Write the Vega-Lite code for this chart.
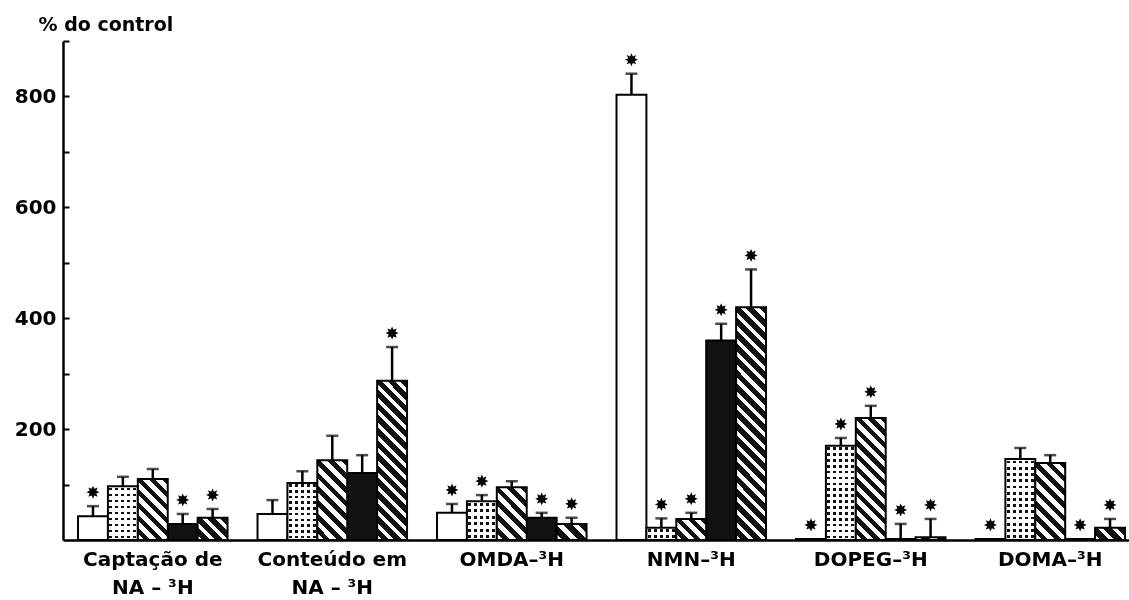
{
"$schema":"https://vega.github.io/schema/vega-lite/v6.json",
"width":1066,"height":499,
"autosize":{"type":"none"},
"padding":{"left":63,"top":41,"right":0,"bottom":60},
"background":"white",
"config":{"view":{"stroke":null},"font":"DejaVu Sans",
"axisX":{"domainColor":"black","domainWidth":2.5,"ticks":false,"labelAngle":0,"labelFont":"DejaVu Sans","labelFontSize":20,"labelFontWeight":"bold","labelColor":"black","labelPadding":9,"labelLineHeight":28,"labelLimit":300},
"axisY":{"domainColor":"black","domainWidth":2.5,"tickColor":"black","tickWidth":2,"tickSize":-6,"labelPadding":13,"grid":false,"labelFont":"DejaVu Sans","labelFontSize":20,"labelFontWeight":"bold","labelColor":"black","titleAngle":0,"titleAlign":"left","titleBaseline":"middle","titleX":-25,"titleY":-17,"titleFont":"DejaVu Sans","titleFontSize":19,"titleFontWeight":"bold","titleColor":"black"}},
"data":{"values":[
{"group":"Captação de|NA – ³H","series":"A","value":43,"hi":61,"sig":true},
{"group":"Captação de|NA – ³H","series":"B","value":97,"hi":114,"sig":false},
{"group":"Captação de|NA – ³H","series":"C","value":110,"hi":128,"sig":false},
{"group":"Captação de|NA – ³H","series":"D","value":29,"hi":47,"sig":true},
{"group":"Captação de|NA – ³H","series":"E","value":40,"hi":56,"sig":true},
{"group":"Conteúdo em|NA – ³H","series":"A","value":47,"hi":72,"sig":false},
{"group":"Conteúdo em|NA – ³H","series":"B","value":103,"hi":124,"sig":false},
{"group":"Conteúdo em|NA – ³H","series":"C","value":144,"hi":188,"sig":false},
{"group":"Conteúdo em|NA – ³H","series":"D","value":121,"hi":153,"sig":false},
{"group":"Conteúdo em|NA – ³H","series":"E","value":287,"hi":348,"sig":true},
{"group":"OMDA–³H","series":"A","value":49,"hi":65,"sig":true},
{"group":"OMDA–³H","series":"B","value":70,"hi":81,"sig":true},
{"group":"OMDA–³H","series":"C","value":95,"hi":106,"sig":false},
{"group":"OMDA–³H","series":"D","value":40,"hi":49,"sig":true},
{"group":"OMDA–³H","series":"E","value":29,"hi":40,"sig":true},
{"group":"NMN–³H","series":"A","value":803,"hi":841,"sig":true},
{"group":"NMN–³H","series":"B","value":22,"hi":39,"sig":true},
{"group":"NMN–³H","series":"C","value":38,"hi":49,"sig":true},
{"group":"NMN–³H","series":"D","value":360,"hi":390,"sig":true},
{"group":"NMN–³H","series":"E","value":420,"hi":488,"sig":true},
{"group":"DOPEG–³H","series":"A","value":2,"hi":2,"sig":true},
{"group":"DOPEG–³H","series":"B","value":170,"hi":184,"sig":true},
{"group":"DOPEG–³H","series":"C","value":220,"hi":242,"sig":true},
{"group":"DOPEG–³H","series":"D","value":2,"hi":29,"sig":true},
{"group":"DOPEG–³H","series":"E","value":5,"hi":38,"sig":true},
{"group":"DOMA–³H","series":"A","value":2,"hi":2,"sig":true},
{"group":"DOMA–³H","series":"B","value":146,"hi":166,"sig":false},
{"group":"DOMA–³H","series":"C","value":139,"hi":153,"sig":false},
{"group":"DOMA–³H","series":"D","value":2,"hi":2,"sig":true},
{"group":"DOMA–³H","series":"E","value":22,"hi":38,"sig":true}
]},
"encoding":{
"x":{"field":"group","type":"nominal","title":null,
"sort":["Captação de|NA – ³H","Conteúdo em|NA – ³H","OMDA–³H","NMN–³H","DOPEG–³H","DOMA–³H"],
"scale":{"domain":["Captação de|NA – ³H","Conteúdo em|NA – ³H","OMDA–³H","NMN–³H","DOPEG–³H","DOMA–³H"],"paddingInner":0.167,"paddingOuter":0.053,"align":0.79},
"axis":{"labelExpr":"split(datum.label,'|')"}},
"xOffset":{"field":"series","type":"nominal","sort":["A","B","C","D","E"],"scale":{"domain":["A","B","C","D","E"],"paddingInner":0,"paddingOuter":0}}
},
"layer":[
{"transform":[{"filter":"datum.series=='A'||datum.series=='D'"}],
"mark":{"type":"bar","stroke":"black","strokeWidth":2},
"encoding":{"y":{"field":"value","type":"quantitative","title":"% do control","scale":{"domain":[0,900],"nice":false},"axis":{"values":[100,200,300,400,500,600,700,800,900],"labelExpr":"datum.value % 200 == 0 && datum.value < 900 ? datum.label : ''"}},
"fill":{"condition":{"test":"datum.series=='A'","value":"white"},"value":"#111"}}},
{"transform":[{"filter":"datum.series=='B'"}],
"mark":{"type":"bar","stroke":"black","strokeWidth":2,"fill":{"gradient":"linear","x1":0,"y1":0,"x2":1,"y2":0,"stops":[
{"offset":0,"color":"#fff"},{"offset":0.05,"color":"#fff"},{"offset":0.05,"color":"#111"},{"offset":0.14,"color":"#111"},{"offset":0.14,"color":"#fff"},
{"offset":0.25,"color":"#fff"},{"offset":0.25,"color":"#111"},{"offset":0.34,"color":"#111"},{"offset":0.34,"color":"#fff"},
{"offset":0.45,"color":"#fff"},{"offset":0.45,"color":"#111"},{"offset":0.54,"color":"#111"},{"offset":0.54,"color":"#fff"},
{"offset":0.65,"color":"#fff"},{"offset":0.65,"color":"#111"},{"offset":0.74,"color":"#111"},{"offset":0.74,"color":"#fff"},
{"offset":0.85,"color":"#fff"},{"offset":0.85,"color":"#111"},{"offset":0.94,"color":"#111"},{"offset":0.94,"color":"#fff"},{"offset":1,"color":"#fff"}]}},
"encoding":{"y":{"field":"value","type":"quantitative","title":"% do control","scale":{"domain":[0,900],"nice":false}}}},
{"transform":[{"filter":"datum.series=='B'"}],
"mark":{"type":"bar","stroke":"black","strokeWidth":2,"blend":"lighten"},
"encoding":{"y":{"field":"value","type":"quantitative","title":"% do control","scale":{"domain":[0,900],"nice":false}},
"fill":{"condition":[
{"test":"datum.value==97","value":{"gradient":"linear","x1":0,"y1":0,"x2":0,"y2":1,"stops":[
{"offset":0,"color":"#fff"},
{"offset":0.0278,"color":"#fff"},{"offset":0.0278,"color":"#111"},{"offset":0.0778,"color":"#111"},{"offset":0.0778,"color":"#fff"},
{"offset":0.1389,"color":"#fff"},{"offset":0.1389,"color":"#111"},{"offset":0.1889,"color":"#111"},{"offset":0.1889,"color":"#fff"},
{"offset":0.25,"color":"#fff"},{"offset":0.25,"color":"#111"},{"offset":0.3,"color":"#111"},{"offset":0.3,"color":"#fff"},
{"offset":0.3611,"color":"#fff"},{"offset":0.3611,"color":"#111"},{"offset":0.4111,"color":"#111"},{"offset":0.4111,"color":"#fff"},
{"offset":0.4722,"color":"#fff"},{"offset":0.4722,"color":"#111"},{"offset":0.5222,"color":"#111"},{"offset":0.5222,"color":"#fff"},
{"offset":0.5833,"color":"#fff"},{"offset":0.5833,"color":"#111"},{"offset":0.6333,"color":"#111"},{"offset":0.6333,"color":"#fff"},
{"offset":0.6944,"color":"#fff"},{"offset":0.6944,"color":"#111"},{"offset":0.7444,"color":"#111"},{"offset":0.7444,"color":"#fff"},
{"offset":0.8056,"color":"#fff"},{"offset":0.8056,"color":"#111"},{"offset":0.8556,"color":"#111"},{"offset":0.8556,"color":"#fff"},
{"offset":0.9167,"color":"#fff"},{"offset":0.9167,"color":"#111"},{"offset":0.9667,"color":"#111"},{"offset":0.9667,"color":"#fff"},
{"offset":1,"color":"#fff"}]}},
{"test":"datum.value==103","value":{"gradient":"linear","x1":0,"y1":0,"x2":0,"y2":1,"stops":[
{"offset":0,"color":"#fff"},
{"offset":0.025,"color":"#fff"},{"offset":0.025,"color":"#111"},{"offset":0.07,"color":"#111"},{"offset":0.07,"color":"#fff"},
{"offset":0.125,"color":"#fff"},{"offset":0.125,"color":"#111"},{"offset":0.17,"color":"#111"},{"offset":0.17,"color":"#fff"},
{"offset":0.225,"color":"#fff"},{"offset":0.225,"color":"#111"},{"offset":0.27,"color":"#111"},{"offset":0.27,"color":"#fff"},
{"offset":0.325,"color":"#fff"},{"offset":0.325,"color":"#111"},{"offset":0.37,"color":"#111"},{"offset":0.37,"color":"#fff"},
{"offset":0.425,"color":"#fff"},{"offset":0.425,"color":"#111"},{"offset":0.47,"color":"#111"},{"offset":0.47,"color":"#fff"},
{"offset":0.525,"color":"#fff"},{"offset":0.525,"color":"#111"},{"offset":0.57,"color":"#111"},{"offset":0.57,"color":"#fff"},
{"offset":0.625,"color":"#fff"},{"offset":0.625,"color":"#111"},{"offset":0.67,"color":"#111"},{"offset":0.67,"color":"#fff"},
{"offset":0.725,"color":"#fff"},{"offset":0.725,"color":"#111"},{"offset":0.77,"color":"#111"},{"offset":0.77,"color":"#fff"},
{"offset":0.825,"color":"#fff"},{"offset":0.825,"color":"#111"},{"offset":0.87,"color":"#111"},{"offset":0.87,"color":"#fff"},
{"offset":0.925,"color":"#fff"},{"offset":0.925,"color":"#111"},{"offset":0.97,"color":"#111"},{"offset":0.97,"color":"#fff"},
{"offset":1,"color":"#fff"}]}},
{"test":"datum.value==70","value":{"gradient":"linear","x1":0,"y1":0,"x2":0,"y2":1,"stops":[
{"offset":0,"color":"#fff"},
{"offset":0.0417,"color":"#fff"},{"offset":0.0417,"color":"#111"},{"offset":0.1167,"color":"#111"},{"offset":0.1167,"color":"#fff"},
{"offset":0.2083,"color":"#fff"},{"offset":0.2083,"color":"#111"},{"offset":0.2833,"color":"#111"},{"offset":0.2833,"color":"#fff"},
{"offset":0.375,"color":"#fff"},{"offset":0.375,"color":"#111"},{"offset":0.45,"color":"#111"},{"offset":0.45,"color":"#fff"},
{"offset":0.5417,"color":"#fff"},{"offset":0.5417,"color":"#111"},{"offset":0.6167,"color":"#111"},{"offset":0.6167,"color":"#fff"},
{"offset":0.7083,"color":"#fff"},{"offset":0.7083,"color":"#111"},{"offset":0.7833,"color":"#111"},{"offset":0.7833,"color":"#fff"},
{"offset":0.875,"color":"#fff"},{"offset":0.875,"color":"#111"},{"offset":0.95,"color":"#111"},{"offset":0.95,"color":"#fff"},
{"offset":1,"color":"#fff"}]}},
{"test":"datum.value==22","value":{"gradient":"linear","x1":0,"y1":0,"x2":0,"y2":1,"stops":[
{"offset":0,"color":"#fff"},
{"offset":0.125,"color":"#fff"},{"offset":0.125,"color":"#111"},{"offset":0.35,"color":"#111"},{"offset":0.35,"color":"#fff"},
{"offset":0.625,"color":"#fff"},{"offset":0.625,"color":"#111"},{"offset":0.85,"color":"#111"},{"offset":0.85,"color":"#fff"},
{"offset":1,"color":"#fff"}]}},
{"test":"datum.value==170","value":{"gradient":"linear","x1":0,"y1":0,"x2":0,"y2":1,"stops":[
{"offset":0,"color":"#fff"},
{"offset":0.0156,"color":"#fff"},{"offset":0.0156,"color":"#111"},{"offset":0.0438,"color":"#111"},{"offset":0.0438,"color":"#fff"},
{"offset":0.0781,"color":"#fff"},{"offset":0.0781,"color":"#111"},{"offset":0.1063,"color":"#111"},{"offset":0.1063,"color":"#fff"},
{"offset":0.1406,"color":"#fff"},{"offset":0.1406,"color":"#111"},{"offset":0.1688,"color":"#111"},{"offset":0.1688,"color":"#fff"},
{"offset":0.2031,"color":"#fff"},{"offset":0.2031,"color":"#111"},{"offset":0.2313,"color":"#111"},{"offset":0.2313,"color":"#fff"},
{"offset":0.2656,"color":"#fff"},{"offset":0.2656,"color":"#111"},{"offset":0.2938,"color":"#111"},{"offset":0.2938,"color":"#fff"},
{"offset":0.3281,"color":"#fff"},{"offset":0.3281,"color":"#111"},{"offset":0.3563,"color":"#111"},{"offset":0.3563,"color":"#fff"},
{"offset":0.3906,"color":"#fff"},{"offset":0.3906,"color":"#111"},{"offset":0.4188,"color":"#111"},{"offset":0.4188,"color":"#fff"},
{"offset":0.4531,"color":"#fff"},{"offset":0.4531,"color":"#111"},{"offset":0.4813,"color":"#111"},{"offset":0.4813,"color":"#fff"},
{"offset":0.5156,"color":"#fff"},{"offset":0.5156,"color":"#111"},{"offset":0.5438,"color":"#111"},{"offset":0.5438,"color":"#fff"},
{"offset":0.5781,"color":"#fff"},{"offset":0.5781,"color":"#111"},{"offset":0.6063,"color":"#111"},{"offset":0.6063,"color":"#fff"},
{"offset":0.6406,"color":"#fff"},{"offset":0.6406,"color":"#111"},{"offset":0.6688,"color":"#111"},{"offset":0.6688,"color":"#fff"},
{"offset":0.7031,"color":"#fff"},{"offset":0.7031,"color":"#111"},{"offset":0.7313,"color":"#111"},{"offset":0.7313,"color":"#fff"},
{"offset":0.7656,"color":"#fff"},{"offset":0.7656,"color":"#111"},{"offset":0.7938,"color":"#111"},{"offset":0.7938,"color":"#fff"},
{"offset":0.8281,"color":"#fff"},{"offset":0.8281,"color":"#111"},{"offset":0.8563,"color":"#111"},{"offset":0.8563,"color":"#fff"},
{"offset":0.8906,"color":"#fff"},{"offset":0.8906,"color":"#111"},{"offset":0.9188,"color":"#111"},{"offset":0.9188,"color":"#fff"},
{"offset":0.9531,"color":"#fff"},{"offset":0.9531,"color":"#111"},{"offset":0.9813,"color":"#111"},{"offset":0.9813,"color":"#fff"},
{"offset":1,"color":"#fff"}]}},
{"test":"datum.value==146","value":{"gradient":"linear","x1":0,"y1":0,"x2":0,"y2":1,"stops":[
{"offset":0,"color":"#fff"},
{"offset":0.0192,"color":"#fff"},{"offset":0.0192,"color":"#111"},{"offset":0.0538,"color":"#111"},{"offset":0.0538,"color":"#fff"},
{"offset":0.0962,"color":"#fff"},{"offset":0.0962,"color":"#111"},{"offset":0.1308,"color":"#111"},{"offset":0.1308,"color":"#fff"},
{"offset":0.1731,"color":"#fff"},{"offset":0.1731,"color":"#111"},{"offset":0.2077,"color":"#111"},{"offset":0.2077,"color":"#fff"},
{"offset":0.25,"color":"#fff"},{"offset":0.25,"color":"#111"},{"offset":0.2846,"color":"#111"},{"offset":0.2846,"color":"#fff"},
{"offset":0.3269,"color":"#fff"},{"offset":0.3269,"color":"#111"},{"offset":0.3615,"color":"#111"},{"offset":0.3615,"color":"#fff"},
{"offset":0.4038,"color":"#fff"},{"offset":0.4038,"color":"#111"},{"offset":0.4385,"color":"#111"},{"offset":0.4385,"color":"#fff"},
{"offset":0.4808,"color":"#fff"},{"offset":0.4808,"color":"#111"},{"offset":0.5154,"color":"#111"},{"offset":0.5154,"color":"#fff"},
{"offset":0.5577,"color":"#fff"},{"offset":0.5577,"color":"#111"},{"offset":0.5923,"color":"#111"},{"offset":0.5923,"color":"#fff"},
{"offset":0.6346,"color":"#fff"},{"offset":0.6346,"color":"#111"},{"offset":0.6692,"color":"#111"},{"offset":0.6692,"color":"#fff"},
{"offset":0.7115,"color":"#fff"},{"offset":0.7115,"color":"#111"},{"offset":0.7462,"color":"#111"},{"offset":0.7462,"color":"#fff"},
{"offset":0.7885,"color":"#fff"},{"offset":0.7885,"color":"#111"},{"offset":0.8231,"color":"#111"},{"offset":0.8231,"color":"#fff"},
{"offset":0.8654,"color":"#fff"},{"offset":0.8654,"color":"#111"},{"offset":0.9,"color":"#111"},{"offset":0.9,"color":"#fff"},
{"offset":0.9423,"color":"#fff"},{"offset":0.9423,"color":"#111"},{"offset":0.9769,"color":"#111"},{"offset":0.9769,"color":"#fff"},
{"offset":1,"color":"#fff"}]}}
],"value":"#ccc"}}},
{"transform":[{"filter":"datum.series=='C'"}],
"mark":{"type":"bar","stroke":"black","strokeWidth":2},
"encoding":{"y":{"field":"value","type":"quantitative","title":"% do control","scale":{"domain":[0,900],"nice":false}},
"fill":{"condition":[
{"test":"datum.value==110","value":{"gradient":"linear","x1":1,"y1":0,"x2":0.409,"y2":1.201,"stops":[
{"offset":0,"color":"#111"},{"offset":0.0714,"color":"#111"},{"offset":0.0714,"color":"#fff"},{"offset":0.1429,"color":"#fff"},
{"offset":0.1429,"color":"#111"},{"offset":0.2143,"color":"#111"},{"offset":0.2143,"color":"#fff"},{"offset":0.2857,"color":"#fff"},
{"offset":0.2857,"color":"#111"},{"offset":0.3571,"color":"#111"},{"offset":0.3571,"color":"#fff"},{"offset":0.4286,"color":"#fff"},
{"offset":0.4286,"color":"#111"},{"offset":0.5,"color":"#111"},{"offset":0.5,"color":"#fff"},{"offset":0.5714,"color":"#fff"},
{"offset":0.5714,"color":"#111"},{"offset":0.6429,"color":"#111"},{"offset":0.6429,"color":"#fff"},{"offset":0.7143,"color":"#fff"},
{"offset":0.7143,"color":"#111"},{"offset":0.7857,"color":"#111"},{"offset":0.7857,"color":"#fff"},{"offset":0.8571,"color":"#fff"},
{"offset":0.8571,"color":"#111"},{"offset":0.9286,"color":"#111"},{"offset":0.9286,"color":"#fff"},{"offset":1,"color":"#fff"}]}},
{"test":"datum.value==144","value":{"gradient":"linear","x1":1,"y1":0,"x2":0.547,"y2":1.206,"stops":[
{"offset":0,"color":"#111"},{"offset":0.0625,"color":"#111"},{"offset":0.0625,"color":"#fff"},{"offset":0.125,"color":"#fff"},
{"offset":0.125,"color":"#111"},{"offset":0.1875,"color":"#111"},{"offset":0.1875,"color":"#fff"},{"offset":0.25,"color":"#fff"},
{"offset":0.25,"color":"#111"},{"offset":0.3125,"color":"#111"},{"offset":0.3125,"color":"#fff"},{"offset":0.375,"color":"#fff"},
{"offset":0.375,"color":"#111"},{"offset":0.4375,"color":"#111"},{"offset":0.4375,"color":"#fff"},{"offset":0.5,"color":"#fff"},
{"offset":0.5,"color":"#111"},{"offset":0.5625,"color":"#111"},{"offset":0.5625,"color":"#fff"},{"offset":0.625,"color":"#fff"},
{"offset":0.625,"color":"#111"},{"offset":0.6875,"color":"#111"},{"offset":0.6875,"color":"#fff"},{"offset":0.75,"color":"#fff"},
{"offset":0.75,"color":"#111"},{"offset":0.8125,"color":"#111"},{"offset":0.8125,"color":"#fff"},{"offset":0.875,"color":"#fff"},
{"offset":0.875,"color":"#111"},{"offset":0.9375,"color":"#111"},{"offset":0.9375,"color":"#fff"},{"offset":1,"color":"#fff"}]}},
{"test":"datum.value==95","value":{"gradient":"linear","x1":1,"y1":0,"x2":0.325,"y2":1.185,"stops":[
{"offset":0,"color":"#111"},{"offset":0.0833,"color":"#111"},{"offset":0.0833,"color":"#fff"},{"offset":0.1667,"color":"#fff"},
{"offset":0.1667,"color":"#111"},{"offset":0.25,"color":"#111"},{"offset":0.25,"color":"#fff"},{"offset":0.3333,"color":"#fff"},
{"offset":0.3333,"color":"#111"},{"offset":0.4167,"color":"#111"},{"offset":0.4167,"color":"#fff"},{"offset":0.5,"color":"#fff"},
{"offset":0.5,"color":"#111"},{"offset":0.5833,"color":"#111"},{"offset":0.5833,"color":"#fff"},{"offset":0.6667,"color":"#fff"},
{"offset":0.6667,"color":"#111"},{"offset":0.75,"color":"#111"},{"offset":0.75,"color":"#fff"},{"offset":0.8333,"color":"#fff"},
{"offset":0.8333,"color":"#111"},{"offset":0.9167,"color":"#111"},{"offset":0.9167,"color":"#fff"},{"offset":1,"color":"#fff"}]}},
{"test":"datum.value==38","value":{"gradient":"linear","x1":1,"y1":0,"x2":-0.14,"y2":0.802,"stops":[
{"offset":0,"color":"#111"},{"offset":0.125,"color":"#111"},{"offset":0.125,"color":"#fff"},{"offset":0.25,"color":"#fff"},
{"offset":0.25,"color":"#111"},{"offset":0.375,"color":"#111"},{"offset":0.375,"color":"#fff"},{"offset":0.5,"color":"#fff"},
{"offset":0.5,"color":"#111"},{"offset":0.625,"color":"#111"},{"offset":0.625,"color":"#fff"},{"offset":0.75,"color":"#fff"},
{"offset":0.75,"color":"#111"},{"offset":0.875,"color":"#111"},{"offset":0.875,"color":"#fff"},{"offset":1,"color":"#fff"}]}},
{"test":"datum.value==220","value":{"gradient":"linear","x1":1,"y1":0,"x2":0.711,"y2":1.175,"stops":[
{"offset":0,"color":"#111"},{"offset":0.0417,"color":"#111"},{"offset":0.0417,"color":"#fff"},{"offset":0.0833,"color":"#fff"},
{"offset":0.0833,"color":"#111"},{"offset":0.125,"color":"#111"},{"offset":0.125,"color":"#fff"},{"offset":0.1667,"color":"#fff"},
{"offset":0.1667,"color":"#111"},{"offset":0.2083,"color":"#111"},{"offset":0.2083,"color":"#fff"},{"offset":0.25,"color":"#fff"},
{"offset":0.25,"color":"#111"},{"offset":0.2917,"color":"#111"},{"offset":0.2917,"color":"#fff"},{"offset":0.3333,"color":"#fff"},
{"offset":0.3333,"color":"#111"},{"offset":0.375,"color":"#111"},{"offset":0.375,"color":"#fff"},{"offset":0.4167,"color":"#fff"},
{"offset":0.4167,"color":"#111"},{"offset":0.4583,"color":"#111"},{"offset":0.4583,"color":"#fff"},{"offset":0.5,"color":"#fff"},
{"offset":0.5,"color":"#111"},{"offset":0.5417,"color":"#111"},{"offset":0.5417,"color":"#fff"},{"offset":0.5833,"color":"#fff"},
{"offset":0.5833,"color":"#111"},{"offset":0.625,"color":"#111"},{"offset":0.625,"color":"#fff"},{"offset":0.6667,"color":"#fff"},
{"offset":0.6667,"color":"#111"},{"offset":0.7083,"color":"#111"},{"offset":0.7083,"color":"#fff"},{"offset":0.75,"color":"#fff"},
{"offset":0.75,"color":"#111"},{"offset":0.7917,"color":"#111"},{"offset":0.7917,"color":"#fff"},{"offset":0.8333,"color":"#fff"},
{"offset":0.8333,"color":"#111"},{"offset":0.875,"color":"#111"},{"offset":0.875,"color":"#fff"},{"offset":0.9167,"color":"#fff"},
{"offset":0.9167,"color":"#111"},{"offset":0.9583,"color":"#111"},{"offset":0.9583,"color":"#fff"},{"offset":1,"color":"#fff"}]}},
{"test":"datum.value==139","value":{"gradient":"linear","x1":1,"y1":0,"x2":0.531,"y2":1.206,"stops":[
{"offset":0,"color":"#111"},{"offset":0.0625,"color":"#111"},{"offset":0.0625,"color":"#fff"},{"offset":0.125,"color":"#fff"},
{"offset":0.125,"color":"#111"},{"offset":0.1875,"color":"#111"},{"offset":0.1875,"color":"#fff"},{"offset":0.25,"color":"#fff"},
{"offset":0.25,"color":"#111"},{"offset":0.3125,"color":"#111"},{"offset":0.3125,"color":"#fff"},{"offset":0.375,"color":"#fff"},
{"offset":0.375,"color":"#111"},{"offset":0.4375,"color":"#111"},{"offset":0.4375,"color":"#fff"},{"offset":0.5,"color":"#fff"},
{"offset":0.5,"color":"#111"},{"offset":0.5625,"color":"#111"},{"offset":0.5625,"color":"#fff"},{"offset":0.625,"color":"#fff"},
{"offset":0.625,"color":"#111"},{"offset":0.6875,"color":"#111"},{"offset":0.6875,"color":"#fff"},{"offset":0.75,"color":"#fff"},
{"offset":0.75,"color":"#111"},{"offset":0.8125,"color":"#111"},{"offset":0.8125,"color":"#fff"},{"offset":0.875,"color":"#fff"},
{"offset":0.875,"color":"#111"},{"offset":0.9375,"color":"#111"},{"offset":0.9375,"color":"#fff"},{"offset":1,"color":"#fff"}]}}
],"value":"#777"}}},
{"transform":[{"filter":"datum.series=='E'"}],
"mark":{"type":"bar","stroke":"black","strokeWidth":2},
"encoding":{"y":{"field":"value","type":"quantitative","title":"% do control","scale":{"domain":[0,900],"nice":false}},
"fill":{"condition":[
{"test":"datum.value==40","value":{"gradient":"linear","x1":1,"y1":0,"x2":-0.124,"y2":0.832,"stops":[
{"offset":0,"color":"#111"},{"offset":0.15,"color":"#111"},{"offset":0.15,"color":"#fff"},{"offset":0.25,"color":"#fff"},
{"offset":0.25,"color":"#111"},{"offset":0.4,"color":"#111"},{"offset":0.4,"color":"#fff"},{"offset":0.5,"color":"#fff"},
{"offset":0.5,"color":"#111"},{"offset":0.65,"color":"#111"},{"offset":0.65,"color":"#fff"},{"offset":0.75,"color":"#fff"},
{"offset":0.75,"color":"#111"},{"offset":0.9,"color":"#111"},{"offset":0.9,"color":"#fff"},{"offset":1,"color":"#fff"}]}},
{"test":"datum.value==287","value":{"gradient":"linear","x1":1,"y1":0,"x2":0.784,"y2":1.148,"stops":[
{"offset":0,"color":"#111"},{"offset":0.04,"color":"#111"},{"offset":0.04,"color":"#fff"},{"offset":0.0667,"color":"#fff"},
{"offset":0.0667,"color":"#111"},{"offset":0.1067,"color":"#111"},{"offset":0.1067,"color":"#fff"},{"offset":0.1333,"color":"#fff"},
{"offset":0.1333,"color":"#111"},{"offset":0.1733,"color":"#111"},{"offset":0.1733,"color":"#fff"},{"offset":0.2,"color":"#fff"},
{"offset":0.2,"color":"#111"},{"offset":0.24,"color":"#111"},{"offset":0.24,"color":"#fff"},{"offset":0.2667,"color":"#fff"},
{"offset":0.2667,"color":"#111"},{"offset":0.3067,"color":"#111"},{"offset":0.3067,"color":"#fff"},{"offset":0.3333,"color":"#fff"},
{"offset":0.3333,"color":"#111"},{"offset":0.3733,"color":"#111"},{"offset":0.3733,"color":"#fff"},{"offset":0.4,"color":"#fff"},
{"offset":0.4,"color":"#111"},{"offset":0.44,"color":"#111"},{"offset":0.44,"color":"#fff"},{"offset":0.4667,"color":"#fff"},
{"offset":0.4667,"color":"#111"},{"offset":0.5067,"color":"#111"},{"offset":0.5067,"color":"#fff"},{"offset":0.5333,"color":"#fff"},
{"offset":0.5333,"color":"#111"},{"offset":0.5733,"color":"#111"},{"offset":0.5733,"color":"#fff"},{"offset":0.6,"color":"#fff"},
{"offset":0.6,"color":"#111"},{"offset":0.64,"color":"#111"},{"offset":0.64,"color":"#fff"},{"offset":0.6667,"color":"#fff"},
{"offset":0.6667,"color":"#111"},{"offset":0.7067,"color":"#111"},{"offset":0.7067,"color":"#fff"},{"offset":0.7333,"color":"#fff"},
{"offset":0.7333,"color":"#111"},{"offset":0.7733,"color":"#111"},{"offset":0.7733,"color":"#fff"},{"offset":0.8,"color":"#fff"},
{"offset":0.8,"color":"#111"},{"offset":0.84,"color":"#111"},{"offset":0.84,"color":"#fff"},{"offset":0.8667,"color":"#fff"},
{"offset":0.8667,"color":"#111"},{"offset":0.9067,"color":"#111"},{"offset":0.9067,"color":"#fff"},{"offset":0.9333,"color":"#fff"},
{"offset":0.9333,"color":"#111"},{"offset":0.9733,"color":"#111"},{"offset":0.9733,"color":"#fff"},{"offset":1,"color":"#fff"}]}},
{"test":"datum.value==29","value":{"gradient":"linear","x1":1,"y1":0,"x2":-0.193,"y2":0.64,"stops":[
{"offset":0,"color":"#111"},{"offset":0.2,"color":"#111"},{"offset":0.2,"color":"#fff"},{"offset":0.3333,"color":"#fff"},
{"offset":0.3333,"color":"#111"},{"offset":0.5333,"color":"#111"},{"offset":0.5333,"color":"#fff"},{"offset":0.6667,"color":"#fff"},
{"offset":0.6667,"color":"#111"},{"offset":0.8667,"color":"#111"},{"offset":0.8667,"color":"#fff"},{"offset":1,"color":"#fff"}]}},
{"test":"datum.value==420","value":{"gradient":"linear","x1":1,"y1":0,"x2":0.857,"y2":1.11,"stops":[
{"offset":0,"color":"#111"},{"offset":0.03,"color":"#111"},{"offset":0.03,"color":"#fff"},{"offset":0.05,"color":"#fff"},
{"offset":0.05,"color":"#111"},{"offset":0.08,"color":"#111"},{"offset":0.08,"color":"#fff"},{"offset":0.1,"color":"#fff"},
{"offset":0.1,"color":"#111"},{"offset":0.13,"color":"#111"},{"offset":0.13,"color":"#fff"},{"offset":0.15,"color":"#fff"},
{"offset":0.15,"color":"#111"},{"offset":0.18,"color":"#111"},{"offset":0.18,"color":"#fff"},{"offset":0.2,"color":"#fff"},
{"offset":0.2,"color":"#111"},{"offset":0.23,"color":"#111"},{"offset":0.23,"color":"#fff"},{"offset":0.25,"color":"#fff"},
{"offset":0.25,"color":"#111"},{"offset":0.28,"color":"#111"},{"offset":0.28,"color":"#fff"},{"offset":0.3,"color":"#fff"},
{"offset":0.3,"color":"#111"},{"offset":0.33,"color":"#111"},{"offset":0.33,"color":"#fff"},{"offset":0.35,"color":"#fff"},
{"offset":0.35,"color":"#111"},{"offset":0.38,"color":"#111"},{"offset":0.38,"color":"#fff"},{"offset":0.4,"color":"#fff"},
{"offset":0.4,"color":"#111"},{"offset":0.43,"color":"#111"},{"offset":0.43,"color":"#fff"},{"offset":0.45,"color":"#fff"},
{"offset":0.45,"color":"#111"},{"offset":0.48,"color":"#111"},{"offset":0.48,"color":"#fff"},{"offset":0.5,"color":"#fff"},
{"offset":0.5,"color":"#111"},{"offset":0.53,"color":"#111"},{"offset":0.53,"color":"#fff"},{"offset":0.55,"color":"#fff"},
{"offset":0.55,"color":"#111"},{"offset":0.58,"color":"#111"},{"offset":0.58,"color":"#fff"},{"offset":0.6,"color":"#fff"},
{"offset":0.6,"color":"#111"},{"offset":0.63,"color":"#111"},{"offset":0.63,"color":"#fff"},{"offset":0.65,"color":"#fff"},
{"offset":0.65,"color":"#111"},{"offset":0.68,"color":"#111"},{"offset":0.68,"color":"#fff"},{"offset":0.7,"color":"#fff"},
{"offset":0.7,"color":"#111"},{"offset":0.73,"color":"#111"},{"offset":0.73,"color":"#fff"},{"offset":0.75,"color":"#fff"},
{"offset":0.75,"color":"#111"},{"offset":0.78,"color":"#111"},{"offset":0.78,"color":"#fff"},{"offset":0.8,"color":"#fff"},
{"offset":0.8,"color":"#111"},{"offset":0.83,"color":"#111"},{"offset":0.83,"color":"#fff"},{"offset":0.85,"color":"#fff"},
{"offset":0.85,"color":"#111"},{"offset":0.88,"color":"#111"},{"offset":0.88,"color":"#fff"},{"offset":0.9,"color":"#fff"},
{"offset":0.9,"color":"#111"},{"offset":0.93,"color":"#111"},{"offset":0.93,"color":"#fff"},{"offset":0.95,"color":"#fff"},
{"offset":0.95,"color":"#111"},{"offset":0.98,"color":"#111"},{"offset":0.98,"color":"#fff"},{"offset":1,"color":"#fff"}]}},
{"test":"datum.value==5","value":{"gradient":"linear","x1":1,"y1":0,"x2":-0.084,"y2":0.101,"stops":[
{"offset":0,"color":"#111"},{"offset":0.3,"color":"#111"},{"offset":0.3,"color":"#fff"},{"offset":0.5,"color":"#fff"},
{"offset":0.5,"color":"#111"},{"offset":0.8,"color":"#111"},{"offset":0.8,"color":"#fff"},{"offset":1,"color":"#fff"}]}},
{"test":"datum.value==22","value":{"gradient":"linear","x1":1,"y1":0,"x2":-0.207,"y2":0.491,"stops":[
{"offset":0,"color":"#111"},{"offset":0.2,"color":"#111"},{"offset":0.2,"color":"#fff"},{"offset":0.3333,"color":"#fff"},
{"offset":0.3333,"color":"#111"},{"offset":0.5333,"color":"#111"},{"offset":0.5333,"color":"#fff"},{"offset":0.6667,"color":"#fff"},
{"offset":0.6667,"color":"#111"},{"offset":0.8667,"color":"#111"},{"offset":0.8667,"color":"#fff"},{"offset":1,"color":"#fff"}]}}
],"value":"#555"}}},
{"transform":[{"filter":"datum.hi > datum.value"}],
"mark":{"type":"rule","strokeWidth":2.5,"color":"black"},
"encoding":{"y":{"field":"value","type":"quantitative","title":"% do control","scale":{"domain":[0,900],"nice":false}},"y2":{"field":"hi"}}},
{"transform":[{"filter":"datum.hi > datum.value"}],
"mark":{"type":"tick","size":12,"thickness":2.5,"color":"black","orient":"horizontal"},
"encoding":{"y":{"field":"hi","type":"quantitative","title":"% do control","scale":{"domain":[0,900],"nice":false}}}},
{"transform":[{"filter":"datum.sig"}],
"mark":{"type":"point","shape":"M0,-1L0.21,-0.51L0.71,-0.71L0.51,-0.21L1,0L0.51,0.21L0.71,0.71L0.21,0.51L0,1L-0.21,0.51L-0.71,0.71L-0.51,0.21L-1,0L-0.51,-0.21L-0.71,-0.71L-0.21,-0.51Z","filled":true,"color":"black","opacity":1,"size":170,"yOffset":-14},
"encoding":{"y":{"field":"hi","type":"quantitative","title":"% do control","scale":{"domain":[0,900],"nice":false}}}}
]
}
